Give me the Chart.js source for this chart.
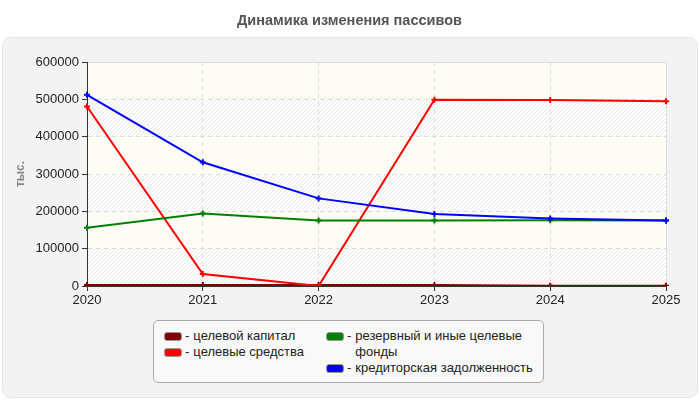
<!DOCTYPE html>
<html><head><meta charset="utf-8">
<script src="https://cdn.jsdelivr.net/npm/chart.js@4.4.1/dist/chart.umd.min.js"></script>
<style>
html,body{margin:0;padding:0;background:#fff;}
#wrap{position:relative;width:700px;height:400px;font-family:"Liberation Sans",Arial,sans-serif;}
#title{position:absolute;left:0;top:12px;width:699px;text-align:center;font-size:14.5px;line-height:17px;font-weight:bold;color:#555;}
#legend{position:absolute;left:153px;top:320px;width:391px;height:63px;border:1px solid #aaa;border-radius:5px;background:#f9f9f9;box-sizing:border-box;font-size:13px;color:#222;}
.item{position:absolute;display:flex;align-items:flex-start;line-height:16px;}
.sw{width:16px;height:7px;border:1px solid #999;border-radius:3px;margin-top:4px;margin-right:3px;flex:none;}
.dash{margin-right:4px;flex:none;}
</style></head>
<body>
<div id="wrap">
<canvas id="c" width="700" height="400"></canvas>
<div id="title"></div>
<div id="legend"></div>
</div>
<script>
const titleText = 'Динамика изменения пассивов';
const categories = ['2020','2021','2022','2023','2024','2025'];
const seriesNames = ['целевой капитал','целевые средства','резервный и иные целевые фонды','кредиторская задолженность'];
const capital = [2500, 2500, 2500, 2500, 500, 500];
const targetFunds = [480700, 32200, 0, 498700, 497900, 495200];
const reserveFunds = [155800, 194400, 175600, 175600, 176000, 175600];
const payables = [512200, 331400, 234700, 192600, 181000, 175600];
const yTicks = [0, 100000, 200000, 300000, 400000, 500000, 600000];
const colors = ['#800000', '#ff0000', '#008000', '#0000ff'];
const seriesValues = [capital, targetFunds, reserveFunds, payables];
const drawOrder = [3, 2, 1, 0];
const FONT = '"Liberation Sans", Arial, sans-serif';

document.getElementById('title').textContent = titleText;

function makeHatch(){
  const s = 4;
  const p = document.createElement('canvas');
  p.width = s; p.height = s;
  const g = p.getContext('2d');
  g.fillStyle = '#fefefe'; g.fillRect(0,0,s,s);
  g.strokeStyle = '#eaeaea'; g.lineWidth = 1;
  g.beginPath(); g.moveTo(-1,s+1); g.lineTo(s+1,-1); g.stroke();
  return g.createPattern(p,'repeat');
}

const bgPlugin = {
  id: 'bg',
  beforeDraw(chart){
    const ctx = chart.ctx;
    ctx.save();
    const x=2,y=37,w=695,h=360,r=8;
    ctx.beginPath();
    ctx.roundRect(x+0.5,y+0.5,w,h,r);
    ctx.fillStyle='#f3f3f3'; ctx.fill();
    ctx.strokeStyle='#e6e6e6'; ctx.lineWidth=1; ctx.stroke();
    const a = chart.chartArea;
    const ys = chart.scales.y;
    const hatch = makeHatch();
    for(let i=0;i<yTicks.length-1;i++){
      const y0 = ys.getPixelForValue(yTicks[i]);
      const y1 = ys.getPixelForValue(yTicks[i+1]);
      ctx.fillStyle = (i%2===0) ? hatch : '#fdfdf6';
      ctx.fillRect(a.left, y1, a.right-a.left, y0-y1);
    }
    ctx.strokeStyle='#dcdcdc'; ctx.lineWidth=1;
    ctx.beginPath();
    ctx.moveTo(a.left, Math.round(a.top)+0.5);
    ctx.lineTo(Math.round(a.right)+0.5, Math.round(a.top)+0.5);
    ctx.lineTo(Math.round(a.right)+0.5, a.bottom);
    ctx.stroke();
    ctx.restore();
  }
};

const datasets = seriesValues.map((vals,i)=>({
  label: seriesNames[i],
  data: vals,
  borderColor: colors[i],
  backgroundColor: colors[i],
  borderWidth: 2,
  pointStyle: 'cross',
  pointRadius: 3,
  pointBorderWidth: 2,
  tension: 0,
  fill: false,
  order: drawOrder[i]
}));

new Chart(document.getElementById('c'), {
  type: 'line',
  data: { labels: categories, datasets },
  plugins: [bgPlugin],
  options: {
    responsive: false,
    animation: false,
    layout: { padding: { left: 0, right: 34, top: 62, bottom: 0 } },
    plugins: {
      legend: { display: false },
      tooltip: { enabled: false },
      title: { display: false }
    },
    scales: {
      x: {
        offset: false,
        grid: { color: '#dcdcdc', tickColor: '#333', tickLength: 5, tickBorderDash: [] },
        border: { color: '#333', width: 1, dash: [4,4] },
        ticks: { color: '#222', padding: 2, font: { family: FONT, size: 13 }, maxRotation: 0 },
        afterFit(s){ s.height = 114; }
      },
      y: {
        min: 0, max: 600000,
        afterBuildTicks(s){ s.ticks = yTicks.map(v=>({value:v})); },
        grid: { color: '#dcdcdc', tickColor: '#333', tickLength: 5, tickBorderDash: [] },
        border: { color: '#333', width: 1, dash: [4,4] },
        ticks: { color: '#222', padding: 3, font: { family: FONT, size: 13 }, callback: v => String(v) },
        title: { display: true, text: 'тыс.', color: '#888', font: { family: FONT, size: 12, weight: 'bold' }, padding: { top: 13, bottom: 0 } },
        afterFit(s){ s.width = 87; }
      }
    }
  }
});
</script>
<script>
(function(){
  const lg = document.getElementById('legend');
  const pos = [ [10,7], [10,23], [172,7], [172,39] ];
  seriesNames.forEach((n,i)=>{
    const d = document.createElement('div');
    d.className='item';
    d.style.left = pos[i][0]+'px'; d.style.top = pos[i][1]+'px';
    const style = i===2 ? 'max-width:185px' : 'white-space:nowrap';
    d.innerHTML = '<span class="sw" style="background:'+colors[i]+'"></span><span class="dash">-</span><span class="t" style="'+style+'">'+n+'</span>';
    lg.appendChild(d);
  });
})();
</script>
</body></html>
